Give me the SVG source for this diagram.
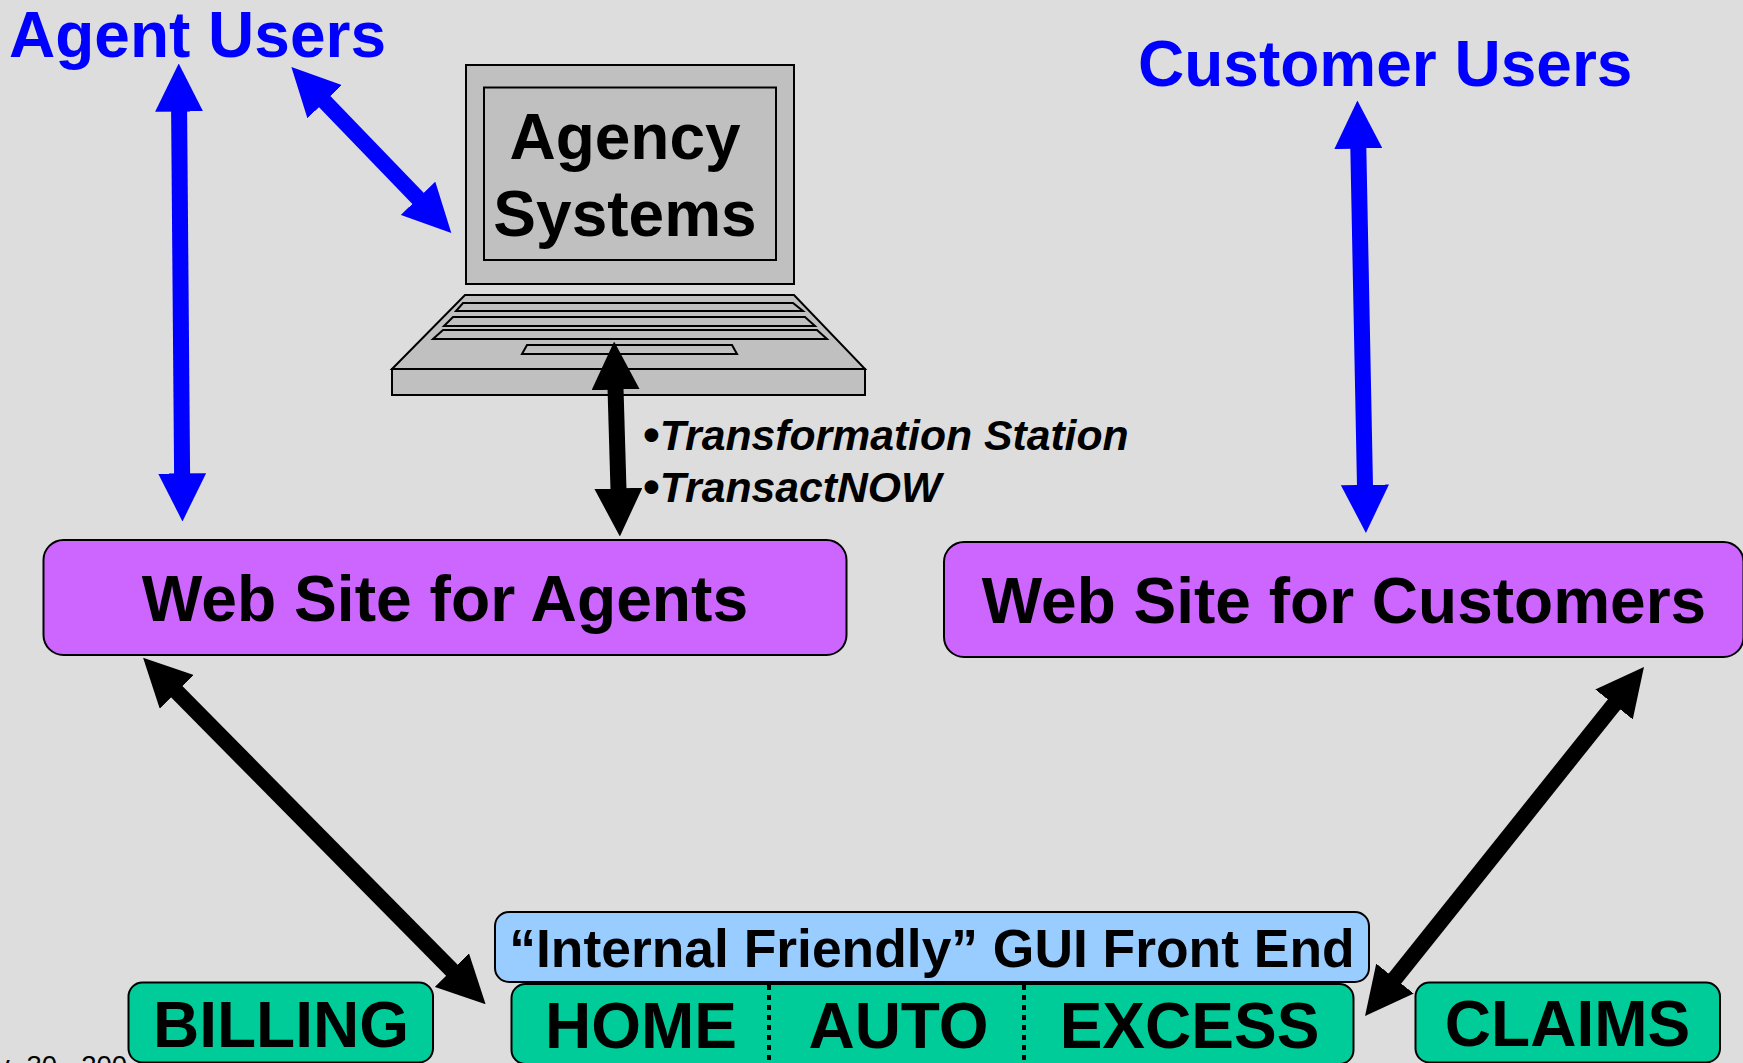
<svg xmlns="http://www.w3.org/2000/svg" width="1743" height="1063" viewBox="0 0 1743 1063">
<style>
text{font-family:"Liberation Sans",Arial,sans-serif;font-weight:bold;fill:#000}
.big{font-size:64px}
.mid{text-anchor:middle}
.user{fill:#0000ff}
.note{font-size:42.700px;font-style:italic}
.bul{font-size:48px;font-style:normal}
.date{font-size:27.500px;font-weight:normal;word-spacing:9px}
.box{stroke:#000;stroke-width:2}
.web{fill:#cc66ff}
.sys{fill:#00cc99}
.gui{fill:#99ccff}
.lap{fill:#c0c0c0;stroke:#000;stroke-width:2}
.lb{fill:none;stroke:#000;stroke-width:2}
.arb{fill:none;stroke:#000;stroke-width:16;marker-start:url(#hb);marker-end:url(#hb)}
.arl{fill:none;stroke:#0000ff;stroke-width:16;marker-start:url(#hl);marker-end:url(#hl)}
.sep{stroke:#000;stroke-width:4;stroke-dasharray:5 5}
</style>
<defs>
<marker id="hb" viewBox="0 0 3 3" refX="0.1" refY="1.5" markerWidth="3" markerHeight="3" markerUnits="strokeWidth" orient="auto-start-reverse"><path d="M0 0L3 1.5L0 3Z" fill="#000"/></marker>
<marker id="hl" viewBox="0 0 3 3" refX="0.1" refY="1.5" markerWidth="3" markerHeight="3" markerUnits="strokeWidth" orient="auto-start-reverse"><path d="M0 0L3 1.5L0 3Z" fill="#0000ff"/></marker>
</defs>
<rect width="1743" height="1063" fill="#dddddd"/>
<text class="date" x="-4" y="1075">y 30, 200</text>
<g id="agent-users"><text class="big user" x="9" y="57">Agent Users</text></g>
<g id="customer-users"><text class="big user" x="1138" y="86">Customer Users</text></g>
<g id="agency-systems">
<rect class="lap" x="466" y="65" width="328" height="219"/>
<rect class="lap" x="484" y="87.500" width="292" height="172.500"/>
<path class="lap" d="M465 295H794L865 369H392Z"/>
<rect class="lap" x="392" y="369" width="473" height="26"/>
<path class="lb" d="M463 303H793L803 311H456ZM453 317H805L815 326H444ZM443 330H817L827 339H433ZM527 345H732L737 354H522Z"/>
<text class="big mid" x="625" y="159">Agency</text>
<text class="big mid" x="625" y="236">Systems</text>
</g>
<g id="web-agents"><rect class="box web" x="43.500" y="540" width="803" height="115" rx="20"/><text class="big mid" x="445" y="621" style="font-size:64.200px">Web Site for Agents</text></g>
<g id="web-customers"><rect class="box web" x="944" y="542" width="799.500" height="115" rx="20"/><text class="big mid" x="1344" y="623">Web Site for Customers</text></g>
<g id="gui"><rect class="box gui" x="495" y="912" width="874" height="70" rx="14"/><text class="mid" font-size="53.400" x="932" y="967">“Internal Friendly” GUI Front End</text></g>
<g id="billing"><rect class="box sys" x="128.500" y="982.500" width="304.500" height="80" rx="14"/><text class="big mid" x="281" y="1047">BILLING</text></g>
<g id="products"><rect class="box sys" x="511.500" y="984" width="842" height="80" rx="14"/>
<line class="sep" x1="769" y1="985" x2="769" y2="1063"/><line class="sep" x1="1024" y1="985" x2="1024" y2="1063"/>
<text class="big mid" x="641" y="1048">HOME</text><text class="big mid" x="898.500" y="1048">AUTO</text><text class="big mid" x="1189.500" y="1048">EXCESS</text></g>
<g id="claims"><rect class="box sys" x="1415.500" y="982.500" width="304.500" height="80" rx="14"/><text class="big mid" x="1567.500" y="1046">CLAIMS</text></g>
<g id="connectors">
<line class="arl" x1="179.100" y1="110" x2="182.100" y2="475"/>
<line class="arl" x1="323.600" y1="100.500" x2="419.100" y2="199.500"/>
<line class="arl" x1="1358.300" y1="147" x2="1365" y2="486.500"/>
<line class="arb" x1="615.500" y1="388" x2="618.500" y2="490"/>
<line class="arb" x1="175.700" y1="690.700" x2="453" y2="971.300"/>
<line class="arb" x1="1615" y1="703.200" x2="1394" y2="979.800"/>
</g>
<g id="notes"><text class="note" x="643" y="451"><tspan class="bul">•</tspan><tspan y="450">Transformation Station</tspan></text><text class="note" x="643" y="503"><tspan class="bul">•</tspan><tspan y="502">TransactNOW</tspan></text></g>
</svg>
